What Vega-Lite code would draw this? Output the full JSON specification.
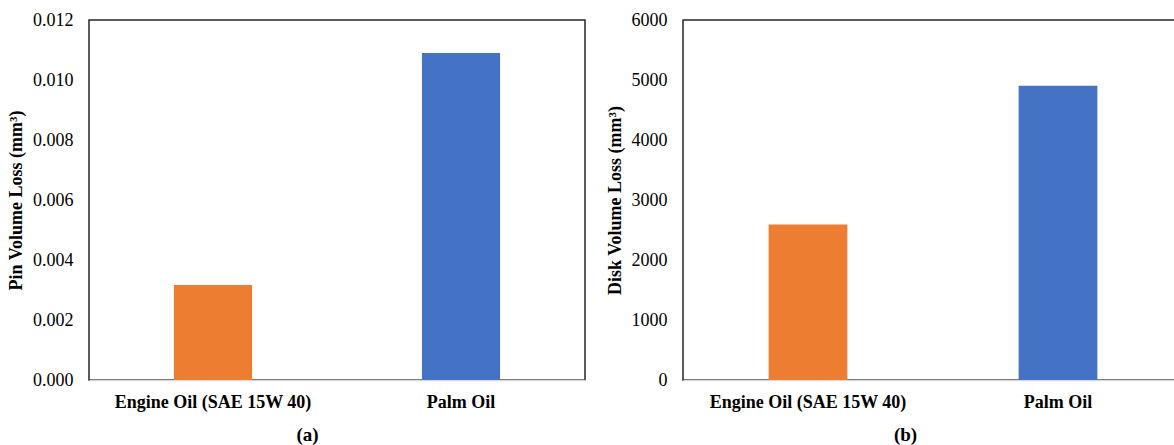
{
  "$schema": "https://vega.github.io/schema/vega-lite/v6.json",
  "padding": {"left": 6, "top": 10, "right": 0, "bottom": 0},
  "autosize": {"type": "pad"},
  "spacing": 19,
  "background": "white",
  "config": {
    "font": "Liberation Serif, Times New Roman, serif",
    "text": {"font": "Liberation Serif, Times New Roman, serif"},
    "view": {"stroke": "#262626", "strokeWidth": 1.5},
    "axis": {
      "labelFont": "Liberation Serif, Times New Roman, serif",
      "titleFont": "Liberation Serif, Times New Roman, serif",
      "labelColor": "#000000",
      "titleColor": "#000000",
      "labelLimit": 400,
      "grid": false,
      "ticks": false
    }
  },
  "hconcat": [
    {
      "width": 496,
      "height": 360,
      "data": {"values": [
        {"oil": "Engine Oil (SAE 15W 40)", "loss": 0.00317},
        {"oil": "Palm Oil", "loss": 0.0109}
      ]},
      "mark": {"type": "bar"},
      "encoding": {
        "x": {
          "field": "oil", "type": "nominal", "sort": null,
          "scale": {"paddingInner": 0.685, "paddingOuter": 0.3425},
          "axis": {
            "labelAngle": 0, "labelFontWeight": "bold", "labelFontSize": 18, "labelPadding": 13,
            "title": "(a)", "titleFontSize": 19, "titleFontWeight": "bold", "titlePadding": 14,
            "titleX": 218,
            "domainColor": "#d9d9d9", "domainWidth": 1.5
          }
        },
        "y": {
          "field": "loss", "type": "quantitative",
          "scale": {"domain": [0, 0.012]},
          "axis": {
            "values": [0, 0.002, 0.004, 0.006, 0.008, 0.01, 0.012],
            "format": ".3f", "labelFontSize": 18, "labelPadding": 16,
            "title": "Pin Volume Loss (mm³)", "titleFontSize": 18, "titleFontWeight": "bold", "titlePadding": 7,
            "domain": false
          }
        },
        "color": {
          "field": "oil", "type": "nominal", "sort": null,
          "scale": {"domain": ["Engine Oil (SAE 15W 40)", "Palm Oil"], "range": ["#ED7D31", "#4472C4"]},
          "legend": null
        }
      }
    },
    {
      "width": 500,
      "height": 360,
      "data": {"values": [
        {"oil": "Engine Oil (SAE 15W 40)", "loss": 2590},
        {"oil": "Palm Oil", "loss": 4905}
      ]},
      "mark": {"type": "bar"},
      "encoding": {
        "x": {
          "field": "oil", "type": "nominal", "sort": null,
          "scale": {"paddingInner": 0.685, "paddingOuter": 0.3425},
          "axis": {
            "labelAngle": 0, "labelFontWeight": "bold", "labelFontSize": 18, "labelPadding": 13,
            "title": "(b)", "titleFontSize": 19, "titleFontWeight": "bold", "titlePadding": 14,
            "titleX": 222,
            "domainColor": "#d9d9d9", "domainWidth": 1.5
          }
        },
        "y": {
          "field": "loss", "type": "quantitative",
          "scale": {"domain": [0, 6000]},
          "axis": {
            "values": [0, 1000, 2000, 3000, 4000, 5000, 6000],
            "format": "d", "labelFontSize": 18, "labelPadding": 16,
            "title": "Disk Volume Loss (mm³)", "titleFontSize": 18, "titleFontWeight": "bold", "titlePadding": 7,
            "domain": false
          }
        },
        "color": {
          "field": "oil", "type": "nominal", "sort": null,
          "scale": {"domain": ["Engine Oil (SAE 15W 40)", "Palm Oil"], "range": ["#ED7D31", "#4472C4"]},
          "legend": null
        }
      }
    }
  ]
}
